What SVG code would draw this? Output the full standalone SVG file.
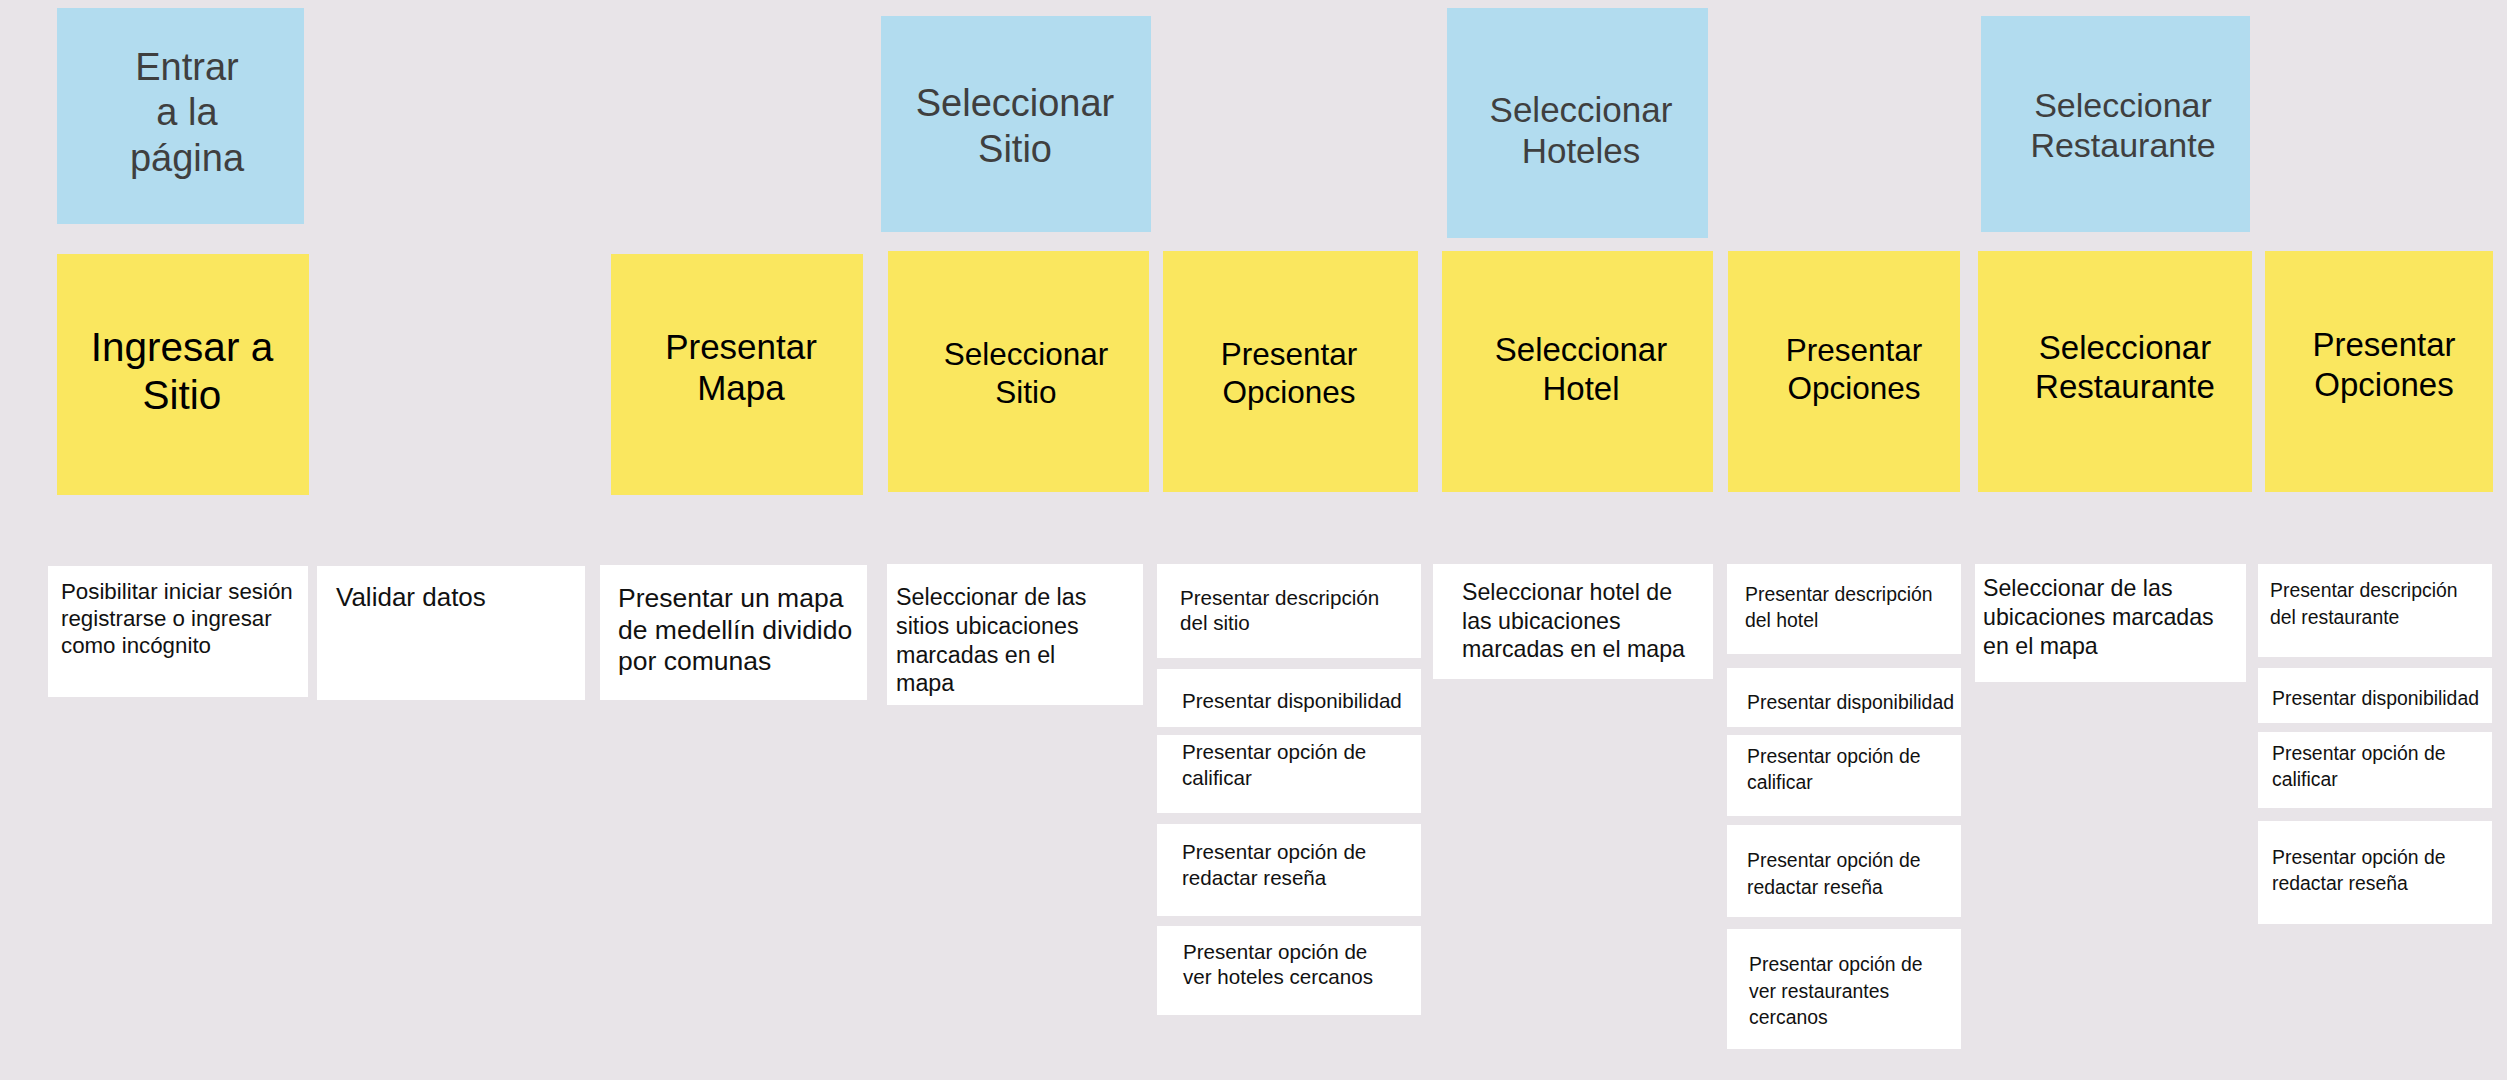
<svg xmlns="http://www.w3.org/2000/svg" width="2507" height="1080" viewBox="0 0 2507 1080">
<style>
text{font-family:"Liberation Sans",Arial,sans-serif}
.blue{fill:#b2dcef}
.yel{fill:#fae75f}
.wht{fill:#ffffff}
.bt{fill:#3f3f3f;text-anchor:middle}
.yt{fill:#000;text-anchor:middle}
.wt{fill:#111}
</style>
<rect width="2507" height="1080" fill="#e8e4e8"/>
<g id="connectors"/>
<!-- Blue header notes -->
<g id="b1"><rect class="blue" x="57" y="8" width="247" height="216"/>
<text class="bt" font-size="38"><tspan x="187" y="80">Entrar</tspan><tspan x="187" y="125">a la</tspan><tspan x="187" y="171">página</tspan></text></g>
<g id="b2"><rect class="blue" x="881" y="16" width="270" height="216"/>
<text class="bt" font-size="38"><tspan x="1015" y="116">Seleccionar</tspan><tspan x="1015" y="162">Sitio</tspan></text></g>
<g id="b3"><rect class="blue" x="1447" y="8" width="261" height="230"/>
<text class="bt" font-size="35"><tspan x="1581" y="122">Seleccionar</tspan><tspan x="1581" y="163">Hoteles</tspan></text></g>
<g id="b4"><rect class="blue" x="1981" y="16" width="269" height="216"/>
<text class="bt" font-size="34"><tspan x="2123" y="117">Seleccionar</tspan><tspan x="2123" y="157">Restaurante</tspan></text></g>
<!-- Yellow notes -->
<g id="y1"><rect class="yel" x="57" y="254" width="252" height="241"/>
<text class="yt" font-size="40.5"><tspan x="182" y="361">Ingresar a</tspan><tspan x="182" y="409">Sitio</tspan></text></g>
<g id="y2"><rect class="yel" x="611" y="254" width="252" height="241"/>
<text class="yt" font-size="35"><tspan x="741" y="359">Presentar</tspan><tspan x="741" y="400">Mapa</tspan></text></g>
<g id="y3"><rect class="yel" x="888" y="251" width="261" height="241"/>
<text class="yt" font-size="31.5"><tspan x="1026" y="365">Seleccionar</tspan><tspan x="1026" y="403">Sitio</tspan></text></g>
<g id="y4"><rect class="yel" x="1163" y="251" width="255" height="241"/>
<text class="yt" font-size="31.5"><tspan x="1289" y="365">Presentar</tspan><tspan x="1289" y="403">Opciones</tspan></text></g>
<g id="y5"><rect class="yel" x="1442" y="251" width="271" height="241"/>
<text class="yt" font-size="33"><tspan x="1581" y="361">Seleccionar</tspan><tspan x="1581" y="400">Hotel</tspan></text></g>
<g id="y6"><rect class="yel" x="1728" y="251" width="232" height="241"/>
<text class="yt" font-size="31.5"><tspan x="1854" y="361">Presentar</tspan><tspan x="1854" y="399">Opciones</tspan></text></g>
<g id="y7"><rect class="yel" x="1978" y="251" width="274" height="241"/>
<text class="yt" font-size="33"><tspan x="2125" y="359">Seleccionar</tspan><tspan x="2125" y="398">Restaurante</tspan></text></g>
<g id="y8"><rect class="yel" x="2265" y="251" width="228" height="241"/>
<text class="yt" font-size="33"><tspan x="2384" y="356">Presentar</tspan><tspan x="2384" y="396">Opciones</tspan></text></g>
<!-- White notes -->
<g id="w1"><rect class="wht" x="48" y="566" width="260" height="131"/>
<text class="wt" font-size="22.3"><tspan x="61" y="599">Posibilitar iniciar sesión</tspan><tspan x="61" y="626">registrarse o ingresar</tspan><tspan x="61" y="653">como incógnito</tspan></text></g>
<g id="w2"><rect class="wht" x="317" y="566" width="268" height="134"/>
<text class="wt" font-size="26"><tspan x="336" y="606">Validar datos</tspan></text></g>
<g id="w3"><rect class="wht" x="600" y="565" width="267" height="135"/>
<text class="wt" font-size="26.5"><tspan x="618" y="607">Presentar un mapa</tspan><tspan x="618" y="639">de medellín dividido</tspan><tspan x="618" y="670">por comunas</tspan></text></g>
<g id="w4"><rect class="wht" x="887" y="564" width="256" height="141"/>
<text class="wt" font-size="23.3"><tspan x="896" y="605">Seleccionar de las</tspan><tspan x="896" y="634">sitios ubicaciones</tspan><tspan x="896" y="663">marcadas en el</tspan><tspan x="896" y="691">mapa</tspan></text></g>
<g id="w5"><rect class="wht" x="1157" y="564" width="264" height="94"/>
<text class="wt" font-size="20.6"><tspan x="1180" y="605">Presentar descripción</tspan><tspan x="1180" y="630">del sitio</tspan></text></g>
<g id="w6"><rect class="wht" x="1157" y="669" width="264" height="58"/>
<text class="wt" font-size="20.6"><tspan x="1182" y="708">Presentar disponibilidad</tspan></text></g>
<g id="w7"><rect class="wht" x="1157" y="735" width="264" height="78"/>
<text class="wt" font-size="20.6"><tspan x="1182" y="759">Presentar opción de</tspan><tspan x="1182" y="785">calificar</tspan></text></g>
<g id="w8"><rect class="wht" x="1157" y="824" width="264" height="92"/>
<text class="wt" font-size="20.6"><tspan x="1182" y="859">Presentar opción de</tspan><tspan x="1182" y="885">redactar reseña</tspan></text></g>
<g id="w9"><rect class="wht" x="1157" y="926" width="264" height="89"/>
<text class="wt" font-size="20.6"><tspan x="1183" y="959">Presentar opción de</tspan><tspan x="1183" y="984">ver hoteles cercanos</tspan></text></g>
<g id="w10"><rect class="wht" x="1433" y="564" width="280" height="115"/>
<text class="wt" font-size="23.2"><tspan x="1462" y="600">Seleccionar hotel de</tspan><tspan x="1462" y="629">las ubicaciones</tspan><tspan x="1462" y="657">marcadas en el mapa</tspan></text></g>
<g id="w11"><rect class="wht" x="1727" y="564" width="234" height="90"/>
<text class="wt" font-size="19.4"><tspan x="1745" y="601">Presentar descripción</tspan><tspan x="1745" y="627">del hotel</tspan></text></g>
<g id="w12"><rect class="wht" x="1727" y="668" width="234" height="59"/>
<text class="wt" font-size="19.4"><tspan x="1747" y="709">Presentar disponibilidad</tspan></text></g>
<g id="w13"><rect class="wht" x="1727" y="735" width="234" height="81"/>
<text class="wt" font-size="19.4"><tspan x="1747" y="763">Presentar opción de</tspan><tspan x="1747" y="789">calificar</tspan></text></g>
<g id="w14"><rect class="wht" x="1727" y="825" width="234" height="92"/>
<text class="wt" font-size="19.4"><tspan x="1747" y="867">Presentar opción de</tspan><tspan x="1747" y="894">redactar reseña</tspan></text></g>
<g id="w15"><rect class="wht" x="1727" y="929" width="234" height="120"/>
<text class="wt" font-size="19.4"><tspan x="1749" y="971">Presentar opción de</tspan><tspan x="1749" y="998">ver restaurantes</tspan><tspan x="1749" y="1024">cercanos</tspan></text></g>
<g id="w16"><rect class="wht" x="1975" y="564" width="271" height="118"/>
<text class="wt" font-size="23.2"><tspan x="1983" y="596">Seleccionar de las</tspan><tspan x="1983" y="625">ubicaciones marcadas</tspan><tspan x="1983" y="654">en el mapa</tspan></text></g>
<g id="w17"><rect class="wht" x="2258" y="564" width="234" height="93"/>
<text class="wt" font-size="19.4"><tspan x="2270" y="597">Presentar descripción</tspan><tspan x="2270" y="624">del restaurante</tspan></text></g>
<g id="w18"><rect class="wht" x="2258" y="668" width="234" height="55"/>
<text class="wt" font-size="19.4"><tspan x="2272" y="705">Presentar disponibilidad</tspan></text></g>
<g id="w19"><rect class="wht" x="2258" y="732" width="234" height="76"/>
<text class="wt" font-size="19.4"><tspan x="2272" y="760">Presentar opción de</tspan><tspan x="2272" y="786">calificar</tspan></text></g>
<g id="w20"><rect class="wht" x="2258" y="821" width="234" height="103"/>
<text class="wt" font-size="19.4"><tspan x="2272" y="864">Presentar opción de</tspan><tspan x="2272" y="890">redactar reseña</tspan></text></g>
</svg>
